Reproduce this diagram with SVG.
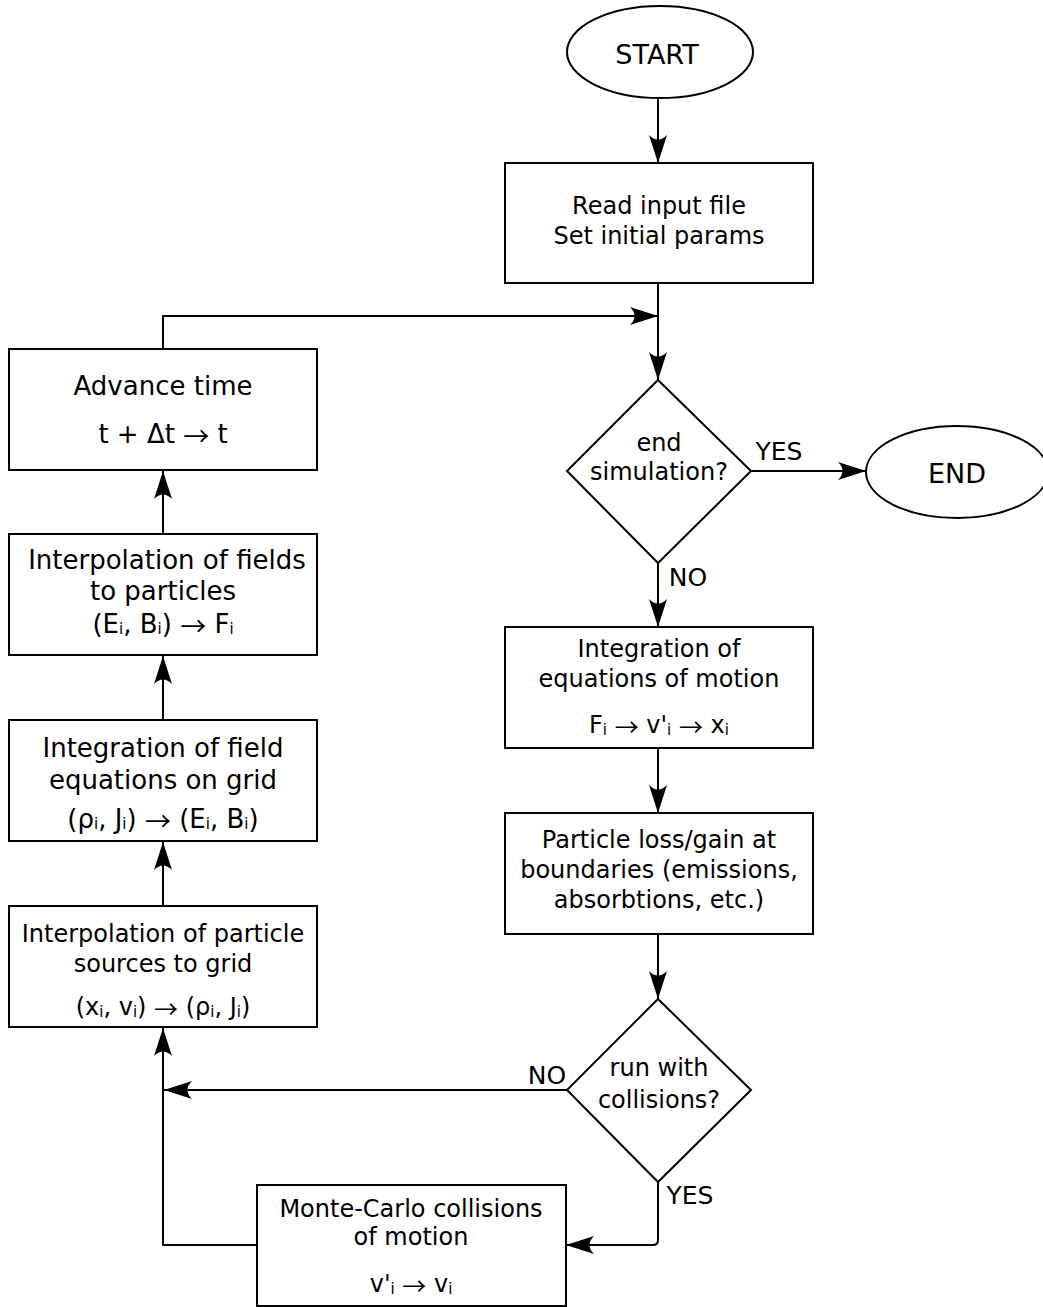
<svg xmlns="http://www.w3.org/2000/svg" width="1043" height="1307" viewBox="0 0 1043 1307">
  <style>
    .shape { fill: #ffffff; stroke: #000000; stroke-width: 2; }
    .wire { fill: none; stroke: #000000; stroke-width: 2; }
    text { font-family: "DejaVu Sans", "Liberation Sans", sans-serif; font-size: 24px; fill: #000000; text-anchor: middle; dominant-baseline: central; }
    .big { font-size: 26px; }
    .term { font-size: 27px; }
    .label { font-size: 25px; }
    .sub { font-size: 15px; }
    .arr { font-family: "Noto Sans CJK SC", "DejaVu Sans", sans-serif; }
  </style>
  <defs>
    <marker id="arrow" markerUnits="userSpaceOnUse" markerWidth="32" markerHeight="22" viewBox="-30 -11 32 22" refX="0" refY="0" orient="auto">
      <path d="M0,0 L-28,-9 Q-19,0 -28,9 Z" fill="#000000"/>
    </marker>
  </defs>
  <rect width="1043" height="1307" fill="#ffffff"/>

  <!-- connectors -->
  <g id="connectors">
    <path class="wire" d="M658,98 V163" marker-end="url(#arrow)"/>
    <path class="wire" d="M658,283 V380" marker-end="url(#arrow)"/>
    <path class="wire" d="M163,349 V316 H658" marker-end="url(#arrow)"/>
    <path class="wire" d="M751,471 H866" marker-end="url(#arrow)"/>
    <path class="wire" d="M658,563 V627" marker-end="url(#arrow)"/>
    <path class="wire" d="M658,748 V813" marker-end="url(#arrow)"/>
    <path class="wire" d="M658,934 V999" marker-end="url(#arrow)"/>
    <path class="wire" d="M567,1090 H164" marker-end="url(#arrow)"/>
    <path class="wire" d="M658,1182 V1240 Q658,1245 653,1245 H566" marker-end="url(#arrow)"/>
    <path class="wire" d="M257,1245 H163 V1028" marker-end="url(#arrow)"/>
    <path class="wire" d="M163,906 V842" marker-end="url(#arrow)"/>
    <path class="wire" d="M163,720 V656" marker-end="url(#arrow)"/>
    <path class="wire" d="M163,534 V471" marker-end="url(#arrow)"/>
    <text class="label" x="779" y="451">YES</text>
    <text class="label" x="688" y="577">NO</text>
    <text class="label" x="547" y="1075">NO</text>
    <text class="label" x="690" y="1195">YES</text>
  </g>

  <g id="start">
    <ellipse class="shape" cx="660" cy="52" rx="93" ry="46"/>
    <text class="term" x="657" y="54">START</text>
  </g>

  <g id="read-input">
    <rect class="shape" x="505" y="163" width="308" height="120"/>
    <text x="659" y="206">Read input file</text>
    <text x="659" y="236">Set initial params</text>
  </g>

  <g id="end-simulation">
    <polygon class="shape" points="658,380 751,471 658,563 567,471"/>
    <text x="659" y="443">end</text>
    <text x="659" y="472">simulation?</text>
  </g>

  <g id="end">
    <ellipse class="shape" cx="957" cy="472" rx="91" ry="46"/>
    <text class="term" x="957" y="473">END</text>
  </g>

  <g id="integrate-motion">
    <rect class="shape" x="505" y="627" width="308" height="121"/>
    <text x="659" y="649">Integration of</text>
    <text x="659" y="679">equations of motion</text>
    <text x="659" y="725">F<tspan class="sub" dy="5">i</tspan><tspan dy="-5"> </tspan><tspan class="arr">→</tspan> v'<tspan class="sub" dy="5">i</tspan><tspan dy="-5"> </tspan><tspan class="arr">→</tspan> x<tspan class="sub" dy="5">i</tspan></text>
  </g>

  <g id="boundaries">
    <rect class="shape" x="505" y="813" width="308" height="121"/>
    <text x="659" y="840">Particle loss/gain at</text>
    <text x="659" y="870">boundaries (emissions,</text>
    <text x="659" y="900">absorbtions, etc.)</text>
  </g>

  <g id="collisions-check">
    <polygon class="shape" points="658,999 751,1090 658,1182 567,1090"/>
    <text x="659" y="1068">run with</text>
    <text x="659" y="1100">collisions?</text>
  </g>

  <g id="monte-carlo">
    <rect class="shape" x="257" y="1185" width="309" height="121"/>
    <text x="411" y="1209">Monte-Carlo collisions</text>
    <text x="411" y="1237">of motion</text>
    <text x="411" y="1284">v'<tspan class="sub" dy="5">i</tspan><tspan dy="-5"> </tspan><tspan class="arr">→</tspan> v<tspan class="sub" dy="5">i</tspan></text>
  </g>

  <g id="advance-time">
    <rect class="shape" x="9" y="349" width="308" height="121"/>
    <text class="big" x="163" y="386">Advance time</text>
    <text class="big" x="163" y="434">t + Δt <tspan class="arr">→</tspan> t</text>
  </g>

  <g id="fields-to-particles">
    <rect class="shape" x="9" y="534" width="308" height="121"/>
    <text class="big" x="167" y="560">Interpolation of fields</text>
    <text class="big" x="163" y="591">to particles</text>
    <text class="big" x="163" y="624">(E<tspan class="sub" dy="5">i</tspan><tspan dy="-5">, B</tspan><tspan class="sub" dy="5">i</tspan><tspan dy="-5">) </tspan><tspan class="arr">→</tspan> F<tspan class="sub" dy="5">i</tspan></text>
  </g>

  <g id="field-equations">
    <rect class="shape" x="9" y="720" width="308" height="121"/>
    <text class="big" x="163" y="748">Integration of field</text>
    <text class="big" x="163" y="780">equations on grid</text>
    <text class="big" x="163" y="819">(ρ<tspan class="sub" dy="5">i</tspan><tspan dy="-5">, J</tspan><tspan class="sub" dy="5">i</tspan><tspan dy="-5">) </tspan><tspan class="arr">→</tspan> (E<tspan class="sub" dy="5">i</tspan><tspan dy="-5">, B</tspan><tspan class="sub" dy="5">i</tspan><tspan dy="-5">)</tspan></text>
  </g>

  <g id="sources-to-grid">
    <rect class="shape" x="9" y="906" width="308" height="121"/>
    <text x="163" y="934">Interpolation of particle</text>
    <text x="163" y="964">sources to grid</text>
    <text x="163" y="1007">(x<tspan class="sub" dy="5">i</tspan><tspan dy="-5">, v</tspan><tspan class="sub" dy="5">i</tspan><tspan dy="-5">) </tspan><tspan class="arr">→</tspan> (ρ<tspan class="sub" dy="5">i</tspan><tspan dy="-5">, J</tspan><tspan class="sub" dy="5">i</tspan><tspan dy="-5">)</tspan></text>
  </g>
</svg>
